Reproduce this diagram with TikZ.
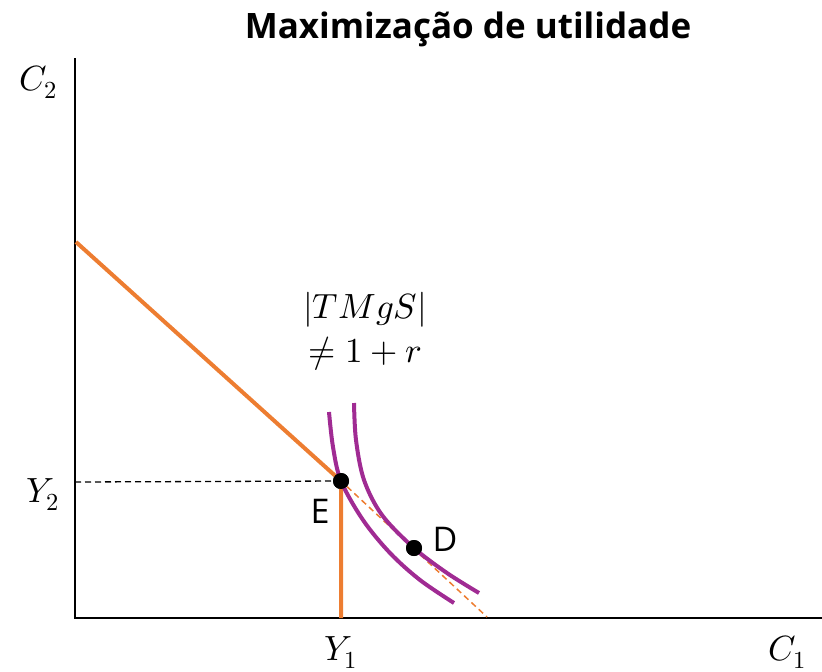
\documentclass[tikz,border=0pt]{standalone}
\usepackage{fontspec}
\usepackage{unicode-math}
\setsansfont{Open Sans}
\setmathfont{latinmodern-math.otf}
\usetikzlibrary{positioning,calc}
\definecolor{budgetorange}{HTML}{ED7D31}
\definecolor{curvepurple}{HTML}{A02B93}

\begin{document}
\begin{tikzpicture}[x=1pt,y=-1pt,
	budget/.style={budgetorange, line width=4pt},
	indiff/.style={curvepurple, line width=4pt, smooth, tension=0.55},
	guide/.style={dash pattern=on 6pt off 4pt},
	dot/.style={circle, fill=black, inner sep=0pt, minimum size=16pt},
	mathlbl/.style={font=\fontsize{35}{42}\selectfont, inner sep=0pt, anchor=base},
	ptlbl/.style={font=\sffamily\fontsize{34}{40}\selectfont, inner sep=0pt, anchor=base}]
	\useasboundingbox (0,0) rectangle (822,672);
	
	% Title
	\node[font=\sffamily\bfseries\fontsize{35}{42}\selectfont, anchor=base] (title) at (468,38) {Maximização de utilidade};
	
	% Axes
	\coordinate (origin) at (75,618);
	\coordinate (ytop) at (75,58);
	\coordinate (xend) at (822,618);
	\draw[line width=2pt] (ytop) -- (origin) -- (xend);
	\node[mathlbl] (c2) at (38,90) {$C_2$};
	\node[mathlbl] (c1) at (787,660) {$C_1$};
	
	% Points
	\node[dot] (E) at (341,481) {};
	\node[dot] (D) at (414,548) {};
	\node[ptlbl] (Elbl) at (320,523) {E};
	\node[ptlbl] (Dlbl) at (445,551) {D};
	
	% Endowment guides
	\coordinate (y2axis) at (75,482);
	\coordinate (y1axis) at (341,618);
	\draw[guide, line width=1.3pt] (y2axis) -- (E);
	\node[mathlbl] (y2) at (43,502) {$Y_2$};
	\node[mathlbl] (y1) at (341,660) {$Y_1$};
	
	% Budget constraint
	\coordinate (budgettop) at (76,242);
	\coordinate (budgetend) at (487,617);
	\draw[budget] (budgettop) -- (E.center) -- (y1axis);
	\draw[budgetorange, guide, line width=1.5pt] (E) -- (budgetend);
	
	% Indifference curves
	\draw[indiff] plot coordinates {(329,412) (333,447) (341,481) (363,520) (390,553) (420,580) (454,603)};
	\draw[indiff] plot coordinates {(354,403) (356,440) (364,480) (382,515) (414,548) (447,573) (479,593)};
	\node[dot] at (E) {};
	\node[dot] at (D) {};
	
	% Condition
	\node[mathlbl] (tmgs) at (365,318) {$|TMgS|$};
	\node[mathlbl] (cond) at (365,362) {$\neq 1+r$};
\end{tikzpicture}
\end{document}
